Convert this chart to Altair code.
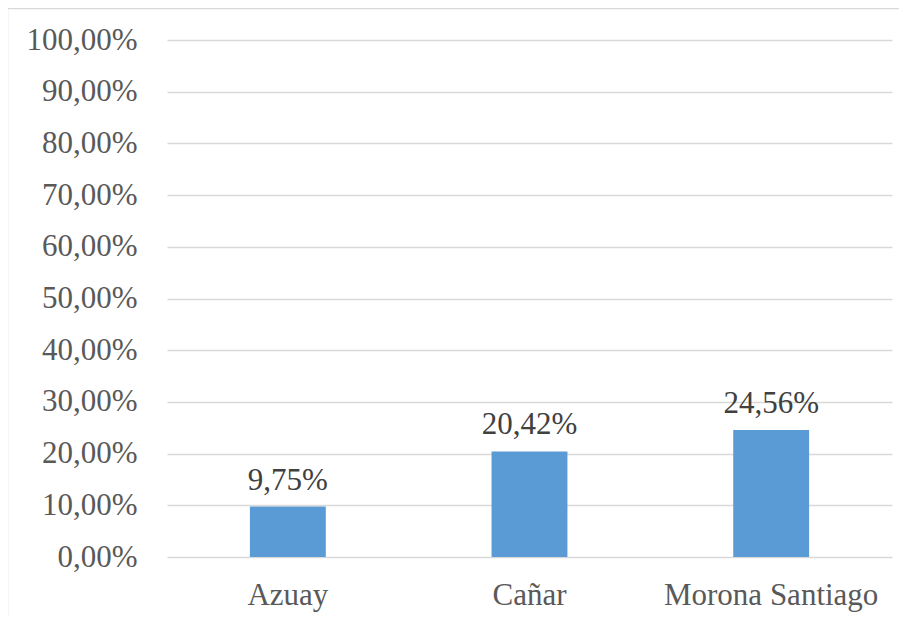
import altair as alt
import pandas as pd

categories = ["Azuay", "Cañar", "Morona Santiago"]
values = [9.75, 20.42, 24.56]
y_ticks = [0, 10, 20, 30, 40, 50, 60, 70, 80, 90, 100]

df = pd.DataFrame({"cat": categories, "val": values})
FONT = "Liberation Serif"

x = alt.X("cat:N", sort=categories, title=None,
          scale=alt.Scale(paddingInner=0.686, paddingOuter=0.343),
          axis=alt.Axis(labelAngle=0, ticks=False, domain=False, labelFont=FONT,
                        labelFontSize=31, labelColor="#595959", labelPadding=23,
                        labelBaseline="top", labelLimit=500))
y = alt.Y("val:Q", title=None,
          scale=alt.Scale(domain=[0, 100], nice=False),
          axis=alt.Axis(values=y_ticks, ticks=False, domain=False, labelFont=FONT,
                        labelFontSize=31, labelColor="#595959", labelPadding=30,
                        gridColor="#d9d9d9", gridWidth=1.3, labelLimit=300,
                        labelExpr="replace(format(datum.value, '.2f'), '.', ',') + '%'"))

base = alt.Chart(df)
bars = base.mark_bar(color="#5B9BD5").encode(x=x, y=y)
labels = base.transform_calculate(
    lab="replace(format(datum.val, '.2f'), '.', ',') + '%'"
).mark_text(font=FONT, fontSize=31, color="#404040", baseline="alphabetic", dy=-17).encode(
    x=alt.X("cat:N", sort=categories), y="val:Q", text="lab:N")

one = alt.Chart(pd.DataFrame({"a": [0]}))
top_border = one.mark_rule(color="#d9d9d9", strokeWidth=1.5).encode(
    x=alt.value(-160), x2=alt.value(740), y=alt.value(-31.5))
left_border = one.mark_rule(color="#d9d9d9", strokeWidth=1.5).encode(
    x=alt.value(-159.5), y=alt.value(-32), y2=alt.value(600))

chart = alt.layer(bars, labels, top_border, left_border).properties(
    width=725, height=517,
    background="white",
    autosize=alt.AutoSizeParams(type="none"),
    padding={"left": 159, "top": 32, "right": 7, "bottom": 59},
).configure_view(strokeWidth=0)

chart.save("out.html", embed_options={"renderer": "svg", "actions": False})
